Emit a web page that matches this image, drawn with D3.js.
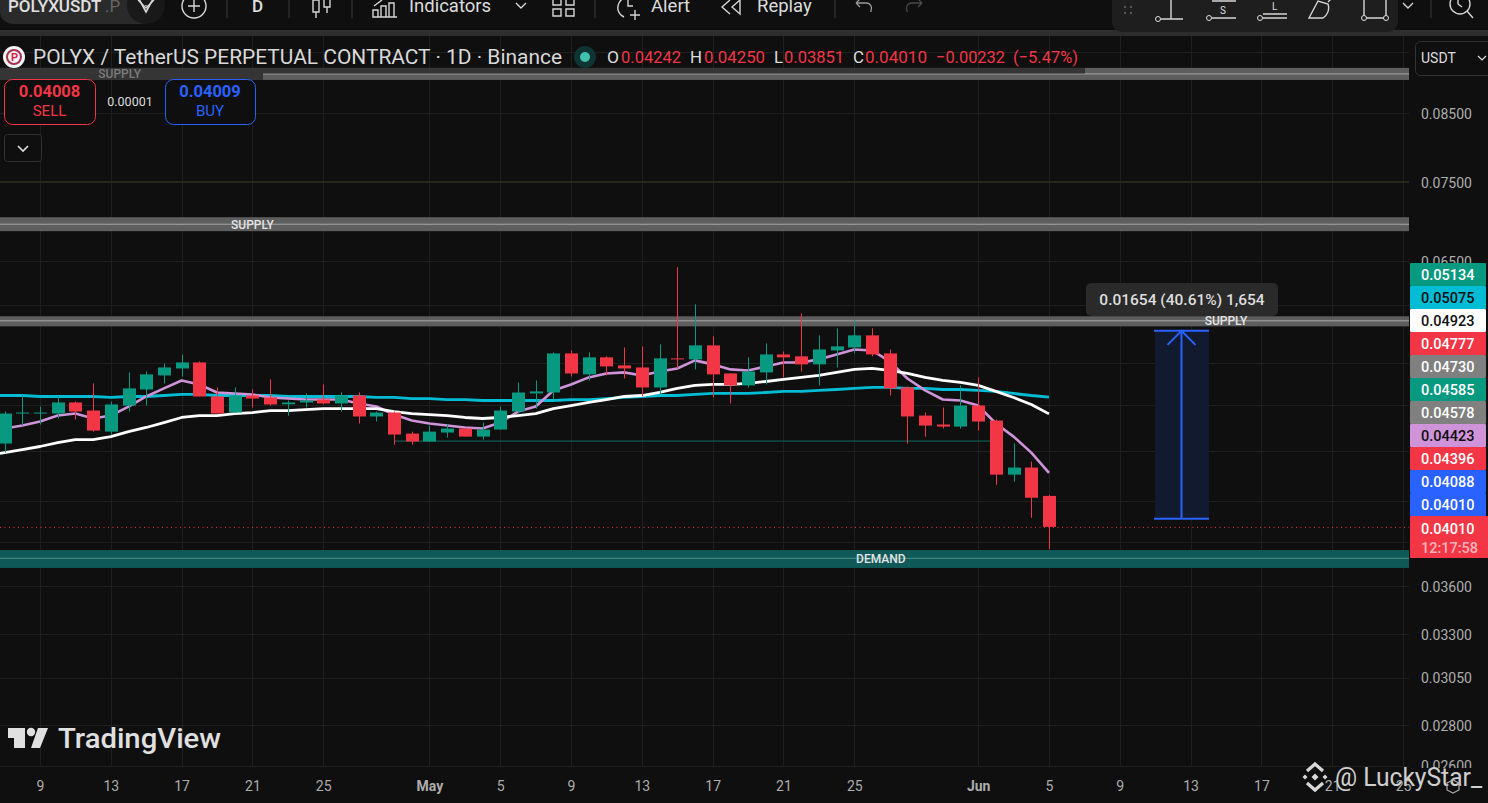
<!DOCTYPE html>
<html><head><meta charset="utf-8">
<style>html,body{margin:0;padding:0;background:#0f0f0f;overflow:hidden}svg{display:block}text{font-family:Roboto,"Noto Sans",sans-serif}</style>
<script src="https://cdnjs.cloudflare.com/ajax/libs/d3/7.8.5/d3.min.js"></script>
</head><body><svg id="c" width="1488" height="803"></svg>
<script>
const firstDay = "2025-04-07";
const opens = [.04665,.04931,.04931,.04926,.05026,.04953,.04767,.04998,.05146,.05279,.05346,.05405,.05081,.04935,.0509,.05072,.0501,.05026,.05053,.05017,.0509,.049,.04935,.0475,
 .04682,.04759,.04794,.04724,.04785,.04944,.05109,.05118,.05494,.05289,.05455,.05376,.05356,.05165,.05445,.05435,.05575,.05298,.05184,.05308,.05484,.05465,.05386,.05524,.05554,.05677,.05494,.05165,.04908,.04829,.04811,.04998,
 .04864,.04409,.04466,.04242];
const highs = [.04944,.051,.04989,.0509,.05035,.05203,.05035,.05308,.05317,.05395,.05484,.05415,.05165,.05165,.05146,.05241,.05044,.05109,.05193,.05118,.05118,.04944,.04944,.04767,
 .0482,.04829,.04794,.04846,.04989,.05212,.05231,.05504,.05524,.05504,.05465,.05554,.05565,.05585,.06424,.06006,.05667,.05298,.05455,.05595,.05514,.05908,.05677,.0575,.05834,.0575,.05534,.05175,.04935,.0498,.05184,.0526,
 .04873,.04665,.04515,.0425];
const lows = [.04589,.0482,.04829,.04882,.04873,.04767,.04742,.04944,.04998,.05203,.05269,.05081,.04926,.04935,.0498,.04998,.04908,.0498,.05008,.04944,.04838,.04855,.04656,.04656,
 .04682,.04716,.04724,.04699,.04785,.04926,.04971,.05053,.05269,.05231,.05279,.0525,.05081,.051,.05346,.05337,.05072,.05017,.05165,.05193,.0526,.05317,.05184,.05356,.05494,.05465,.0509,.04665,.04724,.04794,.04794,.04776,
 .04329,.04353,.04077,.03851];
const closes = [.04926,.04935,.04935,.05026,.04944,.04776,.05008,.05156,.05289,.05356,.05405,.05081,.04926,.0509,.05062,.05008,.05026,.05044,.05017,.0509,.049,.04935,.04742,.04682,
 .04767,.04794,.04724,.04785,.04953,.05118,.05128,.05494,.05298,.05455,.05366,.05346,.05165,.05445,.05435,.05575,.05289,.05184,.05317,.05484,.05455,.05386,.05534,.05565,.05677,.05484,.05156,.049,.0482,.04811,.04998,.04855,
 .04409,.04466,.04228,.0401];
// the three averages start one day earlier than the visible candles
const lineStart = "2025-04-06";
const pinkLine = [.0478,.04794,.0482,.04855,.04908,.04926,.04882,.04908,.04989,.05081,.05156,.05231,.05193,.05118,.05109,.051,.05072,.05062,.05053,.05053,.05053,.05017,.04989,.04917,.04864,
 .04838,.0482,.04803,.04794,.04846,.04944,.04989,.05137,.05193,.0526,.05298,.05308,.05279,.05317,.05346,.05425,.05386,.05337,.05327,.05366,.05405,.05405,.05435,.05484,.05534,.05524,.05415,.0525,.05137,.05053,.05044,.04998,
 .04838,.04724,.04589,.04423];
const whiteLine = [.04565,.04589,.04614,.0464,.04673,.04699,.04699,.04724,.04767,.04803,.04846,.04891,.04908,.04908,.04926,.04935,.04953,.04953,.04962,.04971,.04971,.04971,.04971,.04944,.04926,
 .04917,.04908,.04891,.04882,.04891,.04908,.04926,.04971,.04998,.05026,.05053,.05081,.0509,.05118,.05156,.05184,.05193,.05193,.05203,.05221,.05241,.0526,.05279,.05308,.05337,.05346,.05327,.05298,.0526,.05231,.05212,.05184,
 .05128,.05072,.05008,.04923];
const cyanLine = [.0509,.0509,.0509,.05081,.05081,.05081,.05081,.05072,.05081,.05081,.0509,.051,.051,.0509,.0509,.0509,.0509,.05081,.05081,.05081,.05081,.05081,.05072,.05072,.05062,
 .05062,.05053,.05053,.05044,.05044,.05044,.05044,.05044,.05053,.05053,.05062,.05072,.05081,.0509,.0509,.051,.05109,.05109,.05109,.05118,.05128,.05128,.05137,.05146,.05156,.05165,.05165,.05156,.05156,.05146,.05146,.05137,
 .05128,.05109,.0509,.05075];
const zoneLow = [.09026,.06859,.05771,.03722];
const zoneMid = [.09125,.06946,.05829,.03788];
const zoneHigh = [.09225,.07035,.05877,.03845];
const zoneNames = ["SUPPLY","SUPPLY","SUPPLY","DEMAND"];
const zoneNameDays = [6.5,14,69,49.5];
const faintLevel = .075;
const baseLevel = .04686;
const baseFrom = "2025-04-29", baseTo = "2025-06-01";
const lastPrice = .0401;
const measureFrom = .0407, measureTo = .05724;
const priceTicks = [.085,.075,.065,.036,.033,.0305,.028,.026];
const priceGrid = [.095,.085,.075,.065,.06,.054,.05,.046,.042,.039,.036,.033,.0305,.028,.026];
const dateTicks = ["2025-04-09","2025-04-13","2025-04-17","2025-04-21","2025-04-25","2025-05-01","2025-05-05","2025-05-09","2025-05-13","2025-05-17","2025-05-21","2025-05-25","2025-06-01","2025-06-05","2025-06-09","2025-06-13","2025-06-17","2025-06-21","2025-06-25"];
const tagLabels = ["0.05134","0.05075","0.04923","0.04777","0.04730","0.04585","0.04578","0.04423","0.04396","0.04088","0.04010"];
const tagFills = ["#089981","#00bcd4","#ffffff","#f23645","#808080","#089981","#808080","#ce93d8","#f23645","#2962ff","#2962ff"];
const tagInk = ["#fff","#0f0f0f","#0f0f0f","#fff","#fff","#fff","#fff","#0f0f0f","#fff","#fff","#fff"];

const UP="#089981",DOWN="#f23645",BG="#0f0f0f",GRID="#1f1f1f",AXIS="#adadad",BLUE="#2962ff";
const svg=d3.select("#c");
const parse=d3.utcParse("%Y-%m-%d");
const y=d3.scaleLog().domain([.085,.026]).range([113,765.6]);
const x=d3.scaleUtc().domain([parse("2025-04-09"),parse("2025-06-05")]).range([40,1049]);
const days=opens.map((_,i)=>d3.utcDay.offset(parse(firstDay),i));
const lineDays=pinkLine.map((_,i)=>d3.utcDay.offset(parse(lineStart),i));
const R=1409,B=767;

svg.append("rect").attr("width",1488).attr("height",803).attr("fill",BG);
// grid
const g=svg.append("g");
g.selectAll(".h").data(priceGrid).join("line").attr("x1",0).attr("x2",R).attr("y1",d=>Math.round(y(d))+.5).attr("y2",d=>Math.round(y(d))+.5).attr("stroke",GRID);
g.selectAll(".v").data(dateTicks).join("line").attr("x1",d=>Math.round(x(parse(d)))+.5).attr("x2",d=>Math.round(x(parse(d)))+.5).attr("y1",36).attr("y2",B).attr("stroke",GRID);
g.append("line").attr("x1",0).attr("x2",R).attr("y1",y(faintLevel)).attr("y2",y(faintLevel)).attr("stroke","#25271a").attr("stroke-width",2);

// zones
zoneLow.forEach((lo,i)=>{
  const dem=zoneNames[i]==="DEMAND";
  g.append("rect").attr("x",0).attr("width",R).attr("y",y(zoneHigh[i])).attr("height",y(lo)-y(zoneHigh[i])).attr("fill",dem?"#0f5a58":"#5e5e5e");
  g.append("line").attr("x1",0).attr("x2",R).attr("y1",y(zoneMid[i])).attr("y2",y(zoneMid[i])).attr("stroke",dem?"#4f8f8c":"#a8a8a8").attr("stroke-width",1);
});
// legend strip covering top zone
g.append("rect").attr("x",0).attr("y",68).attr("width",263).attr("height",12).attr("fill","#353535");
g.append("rect").attr("x",263).attr("y",68).attr("width",822).attr("height",5.5).attr("fill","#353535");

// base line + last price line
g.append("line").attr("x1",x(parse(baseFrom))).attr("x2",x(parse(baseTo))+12).attr("y1",y(baseLevel)).attr("y2",y(baseLevel)).attr("stroke","#0f6b64").attr("stroke-width",1);
g.append("line").attr("x1",0).attr("x2",R).attr("y1",y(lastPrice)+.5).attr("y2",y(lastPrice)+.5).attr("stroke",DOWN).attr("stroke-dasharray","1 3.5");

// lines
const path=(vals,col,w)=>svg.append("path").attr("d",d3.line().x((d,i)=>x(lineDays[i])).y(d=>y(d))(vals)).attr("fill","none").attr("stroke",col).attr("stroke-width",w).attr("stroke-linejoin","round");
path(cyanLine,"#00bcd4",2.8);
path(pinkLine,"#ce93d8",2.6);
path(whiteLine,"#ffffff",2.8);

// candles
const cg=svg.append("g");
days.forEach((d,i)=>{
  const col=closes[i]>=opens[i]?UP:DOWN, cx=Math.round(x(d));
  cg.append("rect").attr("x",cx).attr("width",1).attr("y",y(highs[i])).attr("height",y(lows[i])-y(highs[i])).attr("fill",col);
  const t=y(Math.max(opens[i],closes[i])),b=y(Math.min(opens[i],closes[i]));
  cg.append("rect").attr("x",cx-6).attr("width",13).attr("y",t).attr("height",Math.max(1,b-t)).attr("fill",col);
});

// zone names
zoneNames.forEach((n,i)=>{
  svg.append("text").attr("x",x(d3.utcHour.offset(parse(firstDay),zoneNameDays[i]*24))).attr("y",y(zoneMid[i])+4.5).attr("text-anchor","middle").attr("font-size",12).attr("font-weight",500).attr("fill",i==0?"#7c7c7c":"#e4e4e4").text(n);
});

// measure tool
const mx0=1155,mx1=1209,my0=y(measureTo),my1=y(measureFrom),mc=1181.5;
svg.append("rect").attr("x",mx0).attr("y",my0).attr("width",mx1-mx0).attr("height",my1-my0).attr("fill","#121a30");
[my0,my1].forEach(v=>svg.append("line").attr("x1",mx0-1).attr("x2",mx1).attr("y1",v).attr("y2",v).attr("stroke",BLUE).attr("stroke-width",2));
svg.append("line").attr("x1",mc).attr("x2",mc).attr("y1",my0).attr("y2",my1).attr("stroke",BLUE).attr("stroke-width",2);
svg.append("path").attr("d",`M${mc-14},${my0+14}L${mc},${my0}L${mc+14},${my0+14}`).attr("fill","none").attr("stroke",BLUE).attr("stroke-width",2);
svg.append("rect").attr("x",1086).attr("y",283).attr("width",192).attr("height",33).attr("rx",5).attr("fill","#2a2a2a");
svg.append("text").attr("x",1182).attr("y",305).attr("text-anchor","middle").attr("font-size",15.5).attr("font-weight",500).attr("fill","#dedede").text("0.01654 (40.61%) 1,654");

// axes panel backgrounds
svg.append("rect").attr("x",0).attr("y",B+1).attr("width",1488).attr("height",803-B).attr("fill",BG);
svg.append("rect").attr("x",R).attr("y",36).attr("width",79).attr("height",767).attr("fill",BG);

// price axis
const ya=d3.axisRight(y).tickValues(priceTicks).tickFormat(d3.format(".5f")).tickSize(0).tickPadding(0);
const yg=svg.append("g").attr("transform","translate(1421,0)").call(ya);
yg.select(".domain").remove();
yg.selectAll("text").attr("font-size",14).attr("fill",AXIS).attr("font-family","Roboto").attr("dy","0.38em");
svg.append("rect").attr("x",R).attr("y",B+1).attr("width",79).attr("height",36).attr("fill",BG);

// date axis
const xa=d3.axisBottom(x).tickValues(dateTicks.map(parse)).tickSize(0).tickPadding(0).tickFormat(d=>{
  const dn=d.getUTCDate(); return dn===1?d3.utcFormat("%b")(d):String(dn);});
const xg=svg.append("g").attr("transform","translate(0,781)").call(xa);
xg.select(".domain").remove();
xg.selectAll("text").attr("font-size",14).attr("fill",AXIS).attr("font-family","Roboto").attr("font-weight",d=>d.getUTCDate()===1?700:400);

// tags
const tagTop=263,tagH=23;
tagLabels.forEach((t,i)=>{
  svg.append("rect").attr("x",1410).attr("y",tagTop+i*tagH).attr("width",76).attr("height",tagH).attr("rx",1).attr("fill",tagFills[i]);
  svg.append("text").attr("x",1421).attr("y",tagTop+i*tagH+17).attr("font-size",14.5).attr("font-weight",500).attr("fill",tagInk[i]).text(t);
});
svg.append("rect").attr("x",1410).attr("y",516).attr("width",78).attr("height",42).attr("fill",DOWN);
svg.append("text").attr("x",1421).attr("y",534).attr("font-size",14.5).attr("font-weight",500).attr("fill","#fff").text(d3.format(".5f")(lastPrice));
svg.append("text").attr("x",1421).attr("y",553).attr("font-size",14.5).attr("font-weight",500).attr("fill","#ffb3ba").text("12:17:58");

// toolbar
const tb=svg.append("g");
tb.append("rect").attr("x",0).attr("y",30).attr("width",1488).attr("height",6).attr("fill","#2e2e2e");
tb.append("path").attr("d","M0,-5H152V12a12,12 0 0 1 -12,12H14a14,12 0 0 1 -14,-12Z").attr("fill","#2a2a2a");
tb.append("text").attr("x",8).attr("y",12).attr("font-size",17).attr("font-weight",500).attr("fill","#e0e0e0").text("POLYXUSDT");
tb.append("text").attr("x",105).attr("y",12).attr("font-size",17).attr("fill","#666").text(".P");
tb.append("circle").attr("cx",146).attr("cy",5).attr("r",19).attr("fill","#191919");
const ic=(d,w=1.4,c="#d6d6d6")=>tb.append("path").attr("d",d).attr("fill","none").attr("stroke",c).attr("stroke-width",w);
ic("M138,0L146,8L154,0M146,5v1");ic("M139,-1L146,12L153,-1",1.6);
tb.append("circle").attr("cx",194).attr("cy",6).attr("r",12).attr("fill","none").attr("stroke","#d6d6d6").attr("stroke-width",1.4);
ic("M188,6h12M194,0v12");
[227,289,352,595,835,1431].forEach(v=>tb.append("line").attr("x1",v).attr("x2",v).attr("y1",0).attr("y2",18).attr("stroke","#3a3a3a"));
const lab=(s,x0,w=400,c="#dcdcdc",fs=18.5)=>tb.append("text").attr("x",x0).attr("y",12).attr("font-size",fs).attr("font-weight",w).attr("fill",c).text(s);
lab("D",252,500,"#e0e0e0",17);
ic("M313,0h6v12h-6zM316,12v6M324,-2h6v9h-6zM327,7v6M316,0v-3");
ic("M373,17v-7h5v7zM381,17v-11h5v11zM389,17v-14h5v14zM373,17h24M374,6L382,0");
lab("Indicators",409);
ic("M516,3l5,5l5,-5");
ic("M553,-2h8v7h-8zM566,-2h8v7h-8zM553,9h8v7h-8zM566,9h8v7h-8z");
ic("M619,3a10,10 0 0 1 13,-5M619,3a10,10 0 0 0 5,14M628,-2v8h5M635,10v10M630,15h10");
lab("Alert",651);
ic("M730,0l-8,7l8,7M740,0l-8,7l8,7z");
lab("Replay",757);
ic("M856,3h10a5,5 0 0 1 5,7v2M856,3l4,-4M856,3l4,4",1.3,"#999");
ic("M922,3h-10a5,5 0 0 0 -5,7v2M922,3l-4,-4M922,3l-4,4",1.3,"#4a4a4a");
tb.append("rect").attr("x",1112).attr("y",-10).attr("width",286).attr("height",42).attr("rx",10).attr("fill","#1e1e1e");
tb.selectAll(".dt").data([[1125,7],[1131,7],[1125,13],[1131,13]]).join("circle").attr("cx",d=>d[0]).attr("cy",d=>d[1]).attr("r",1.2).attr("fill","#555");
tb.append("circle").attr("cx",1158).attr("cy",19).attr("r",2.5).attr("fill","none").attr("stroke","#ddd");ic("M1161,19h22M1171,19v-20");
tb.append("circle").attr("cx",1209).attr("cy",18).attr("r",2.5).attr("fill","none").attr("stroke","#ddd");ic("M1212,18h24M1212,1h24");tb.append("text").attr("x",1220).attr("y",14).attr("font-size",10).attr("fill","#ddd").text("S");
tb.append("circle").attr("cx",1260).attr("cy",18).attr("r",2.5).attr("fill","none").attr("stroke","#ddd");ic("M1263,18h24M1263,14h24");tb.append("text").attr("x",1272).attr("y",10).attr("font-size",10).attr("fill","#ddd").text("L");
ic("M1309,18h14a12,12 0 0 0 5,-14l-10,-3zM1328,2l6,-6");
ic("M1364,0v18M1386,0v18M1364,18h22");tb.append("circle").attr("cx",1364).attr("cy",18).attr("r",2.5).attr("fill","#1e1e1e").attr("stroke","#ddd");tb.append("circle").attr("cx",1386).attr("cy",18).attr("r",2.5).attr("fill","#1e1e1e").attr("stroke","#ddd");
ic("M1403,3l5,5l5,-5");
tb.append("circle").attr("cx",1460).attr("cy",4).attr("r",10).attr("fill","none").attr("stroke","#d6d6d6").attr("stroke-width",1.4);ic("M1467,11l6,7M1458,-2v6l4,3");

// legend
const lg=svg.append("g");
lg.append("circle").attr("cx",14).attr("cy",57).attr("r",11).attr("fill","#f4f4f4");
lg.append("circle").attr("cx",14).attr("cy",57).attr("r",7).attr("fill","none").attr("stroke","#a8324f").attr("stroke-width",2);
lg.append("text").attr("x",11).attr("y",61).attr("font-size",11).attr("font-weight",700).attr("fill","#d8234a").text("P");
lg.append("text").attr("x",33).attr("y",64).attr("font-size",20).attr("fill","#d9d9d9").attr("textLength",529).attr("lengthAdjust","spacingAndGlyphs").text("POLYX / TetherUS PERPETUAL CONTRACT · 1D · Binance");
lg.append("circle").attr("cx",585).attr("cy",57).attr("r",11).attr("fill","#0e3433");
lg.append("circle").attr("cx",585).attr("cy",57).attr("r",5).attr("fill","#3fc1ae");
[["O",607,12,"#ddd"],["0.04242",621,60,DOWN],["H",690,12,"#ddd"],["0.04250",704,61,DOWN],["L",774,9,"#ddd"],["0.03851",784,60,DOWN],["C",853,11,"#ddd"],["0.04010",865,62,DOWN],["−0.00232",936,69,DOWN],["(−5.47%)",1013,65,DOWN]].forEach(a=>{
  lg.append("text").attr("x",a[1]).attr("y",63).attr("font-size",17).attr("fill",a[3]).attr("textLength",a[2]).attr("lengthAdjust","spacingAndGlyphs").text(a[0]);
});
// trade buttons
const btn=(x0,w,col,price,name)=>{
  lg.append("rect").attr("x",x0+.5).attr("y",79.5).attr("width",w).attr("height",45).attr("rx",8).attr("fill",BG).attr("stroke",col);
  lg.append("text").attr("x",x0+w/2).attr("y",97).attr("text-anchor","middle").attr("font-size",16.5).attr("font-weight",700).attr("fill",col).text(price);
  lg.append("text").attr("x",x0+w/2).attr("y",116).attr("text-anchor","middle").attr("font-size",15).attr("fill",col).text(name);
};
btn(4,91,DOWN,"0.04008","SELL");
btn(165,90,BLUE,"0.04009","BUY");
lg.append("text").attr("x",130).attr("y",106).attr("text-anchor","middle").attr("font-size",12.5).attr("fill","#ddd").text("0.00001");
lg.append("rect").attr("x",4.5).attr("y",134.5).attr("width",37).attr("height",27).attr("rx",3).attr("fill",BG).attr("stroke","#333");
lg.append("path").attr("d","M18,146l5,5l5,-5").attr("fill","none").attr("stroke","#e0e0e0").attr("stroke-width",1.6);
lg.append("rect").attr("x",1415.5).attr("y",41.5).attr("width",80).attr("height",34).attr("rx",5).attr("fill",BG).attr("stroke","#333");
lg.append("text").attr("x",1421).attr("y",63).attr("font-size",14).attr("fill","#ddd").text("USDT");
lg.append("path").attr("d","M1478,56l4,4l4,-4").attr("fill","none").attr("stroke","#ddd").attr("stroke-width",1.2);

// TradingView mark
const wm=svg.append("g");
wm.append("path").attr("d","M8,728H25V748H14V738H8Z").attr("fill","#e0e0e0");
wm.append("circle").attr("cx",31).attr("cy",732).attr("r",4.2).attr("fill","#e0e0e0");
wm.append("path").attr("d","M38,728H48L40,748H31Z").attr("fill","#e0e0e0");
wm.append("text").attr("x",58).attr("y",748).attr("font-size",28).attr("font-weight",500).attr("fill","#e0e0e0").attr("textLength",163).attr("lengthAdjust","spacingAndGlyphs").text("TradingView");

// Binance author mark
const dm=(cx,cy,r)=>`M${cx},${cy-r}L${cx+r},${cy}L${cx},${cy+r}L${cx-r},${cy}Z`;
wm.append("path").attr("d",dm(1315,777,3.5)+dm(1305,777,2.5)+dm(1325,777,2.5)).attr("fill","#d8d8d8");
wm.append("path").attr("d","M1307,771L1315,764L1323,771M1307,783L1315,790L1323,783").attr("fill","none").attr("stroke","#d8d8d8").attr("stroke-width",3.2);
wm.append("text").attr("x",1335).attr("y",786).attr("font-size",25).attr("fill","#cfcfcf").attr("textLength",147).attr("lengthAdjust","spacingAndGlyphs").text("@ LuckyStar_");
wm.append("path").attr("d","M1447,783l6,-3l6,3v7l-6,3l-6,-3z").attr("fill","none").attr("stroke","#aaa").attr("stroke-width",1.2);
</script></body></html>
